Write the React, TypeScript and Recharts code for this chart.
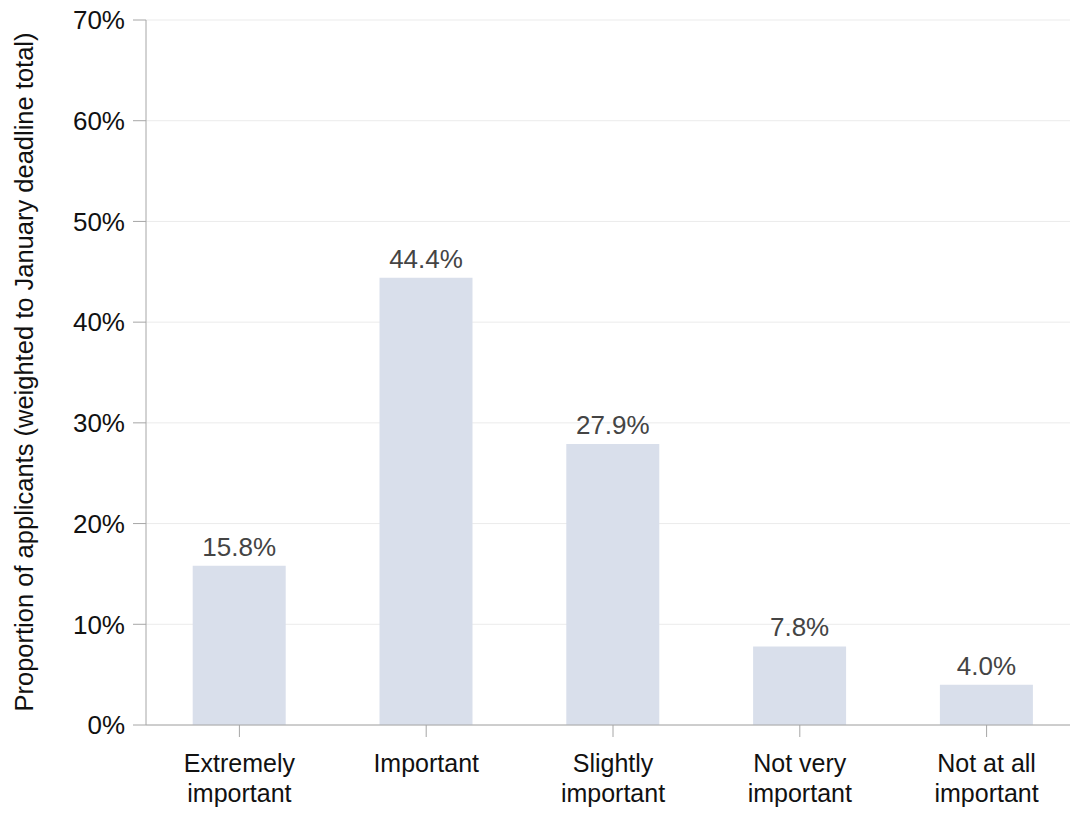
import { BarChart, Bar, XAxis, YAxis, CartesianGrid, LabelList } from 'recharts'

const categories = ['Extremely\nimportant', 'Important', 'Slightly\nimportant', 'Not very\nimportant', 'Not at all\nimportant']
const shares = [15.8, 44.4, 27.9, 7.8, 4.0]
const yTicks = [0, 10, 20, 30, 40, 50, 60, 70]

const data = categories.map((name, i) => ({ name, value: shares[i] }))

const FONT = '"Liberation Sans", Arial, sans-serif'
const AXIS = '#a6a6a6'
const BAR = '#d9dfeb'

const XTick = ({ x, y, payload }: any) => {
  const lines = String(payload.value).split('\n')
  return (
    <text x={x} y={y} textAnchor="middle" fontSize={25} fill="#111" fontFamily={FONT}>
      {lines.map((l, i) => (
        <tspan key={i} x={x} dy={i === 0 ? 33 : 30}>{l}</tspan>
      ))}
    </text>
  )
}

const YLabel = () => (
  <text x={24} y={372} transform="rotate(-90, 24, 372)" textAnchor="middle" dominantBaseline="central"
    fontSize={25.5} fill="#111" fontFamily={FONT}>
    Proportion of applicants (weighted to January deadline total)
  </text>
)

export default function App() {
  return (
    <div style={{ position: 'absolute', left: 0, top: 0, width: 1070, height: 814, overflow: 'hidden', background: '#fff' }}>
      <BarChart width={1080} height={814} data={data} barCategoryGap="25%"
        margin={{ top: 20, right: 0, bottom: 0, left: 0 }}>
        <CartesianGrid vertical={false} stroke="#ebebeb" />
        <XAxis dataKey="name" height={89} interval={0} stroke={AXIS} tickSize={12}
          tickLine={{ stroke: AXIS }} tick={<XTick />} />
        <YAxis width={146} domain={[0, 70]} ticks={yTicks} interval={0} stroke={AXIS} tickSize={13}
          tickMargin={8}
          tickFormatter={(v) => `${v}%`}
          tick={{ fontSize: 26, fill: '#111', fontFamily: FONT }}
          label={<YLabel />} />
        <Bar dataKey="value" fill={BAR} isAnimationActive={false}>
          <LabelList dataKey="value" position="top" offset={10}
            formatter={(v: any) => `${Number(v).toFixed(1)}%`}
            style={{ fontSize: 26, fill: '#444', fontFamily: FONT }} />
        </Bar>
      </BarChart>
    </div>
  )
}
